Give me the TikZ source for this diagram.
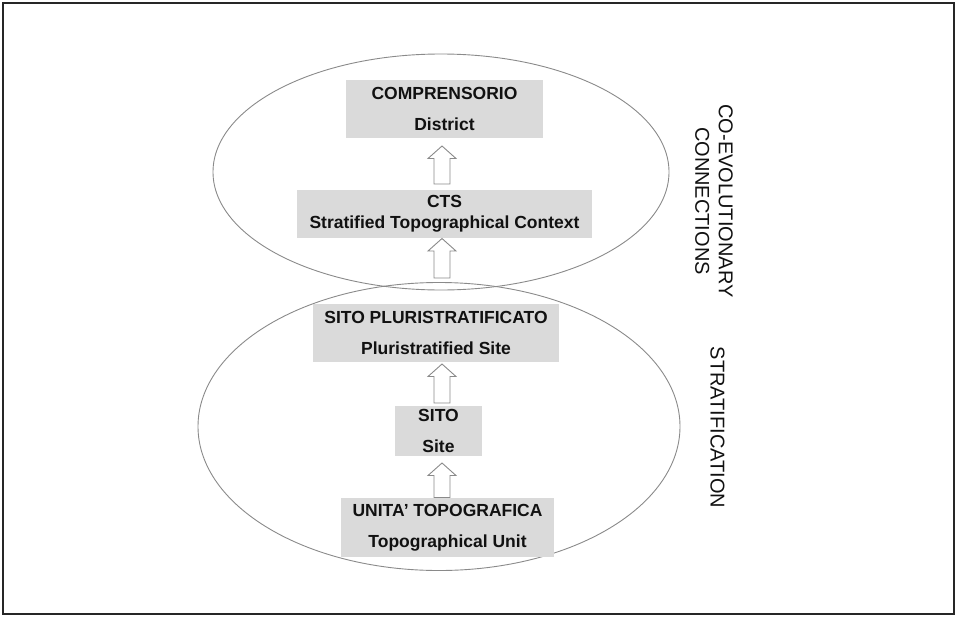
\documentclass[tikz,border=0pt]{standalone}
\usepackage{fontspec}
\setmainfont{Liberation Sans}
\usetikzlibrary{calc}
\definecolor{boxgray}{HTML}{DADADA}
\definecolor{linegray}{HTML}{8A8A8A}
\definecolor{txt}{HTML}{111111}
\newcommand\blockarrow[2]{%
  \draw[arrowline] let \p1=(#1), \p2=(#2) in
    (\x1-8pt,\y1) -- (\x1+8pt,\y1) -- (\x1+8pt,\y2-12.5pt) -- (\x1+14pt,\y2-12.5pt)
    -- (\x1,\y2) -- (\x1-14pt,\y2-12.5pt) -- (\x1-8pt,\y2-12.5pt) -- cycle;}
\begin{document}
\begin{tikzpicture}[x=1pt,y=-1pt,
  levelbox/.style={fill=boxgray, inner sep=0pt, align=center, text=txt,
     font=\bfseries\fontsize{17.5}{31}\selectfont},
  ring/.style={draw=linegray, line width=0.9pt},
  arrowline/.style={draw=linegray, fill=white, line width=0.9pt},
  sidelabel/.style={rotate=-90, align=center, text=txt,
     font=\fontsize{20}{23.5}\selectfont}]
\useasboundingbox (0,0) rectangle (956,616);
\draw[black!85, line width=1.6pt] (3,3) rectangle (954,614);
% ellipses
\draw[ring] (441,172) ellipse [x radius=228, y radius=118];
\draw[ring] (439,426.5) ellipse [x radius=241, y radius=144];
% boxes
\node[levelbox, minimum width=197, minimum height=58] (comp) at (444.5,109)
  {COMPRENSORIO\\District};
\node[levelbox, minimum width=295, minimum height=48,
      font=\bfseries\fontsize{17.5}{21}\selectfont] (cts) at (444.5,214)
  {CTS\\Stratified Topographical Context};
\node[levelbox, minimum width=246, minimum height=58] (pluri) at (436,333)
  {SITO PLURISTRATIFICATO\\Pluristratified Site};
\node[levelbox, minimum width=87, minimum height=50] (sito) at (438.5,431)
  {SITO\\Site};
\node[levelbox, minimum width=213, minimum height=59] (unita) at (447.5,527.5)
  {UNITA’ TOPOGRAFICA\\Topographical Unit};
% arrows
\coordinate (a1b) at (442,184); \coordinate (a1t) at (442,146);
\coordinate (a2b) at (442,278); \coordinate (a2t) at (442,238.5);
\coordinate (a3b) at (442,403); \coordinate (a3t) at (442,364);
\coordinate (a4b) at (442,497.5); \coordinate (a4t) at (442,463);
\blockarrow{a1b}{a1t}
\blockarrow{a2b}{a2t}
\blockarrow{a3b}{a3t}
\blockarrow{a4b}{a4t}
% side labels
\node[sidelabel] (coevo) at (714,201) {CO-EVOLUTIONARY\\CONNECTIONS};
\node[sidelabel] (strat) at (717.5,427.5) {STRATIFICATION};
\end{tikzpicture}
\end{document}
